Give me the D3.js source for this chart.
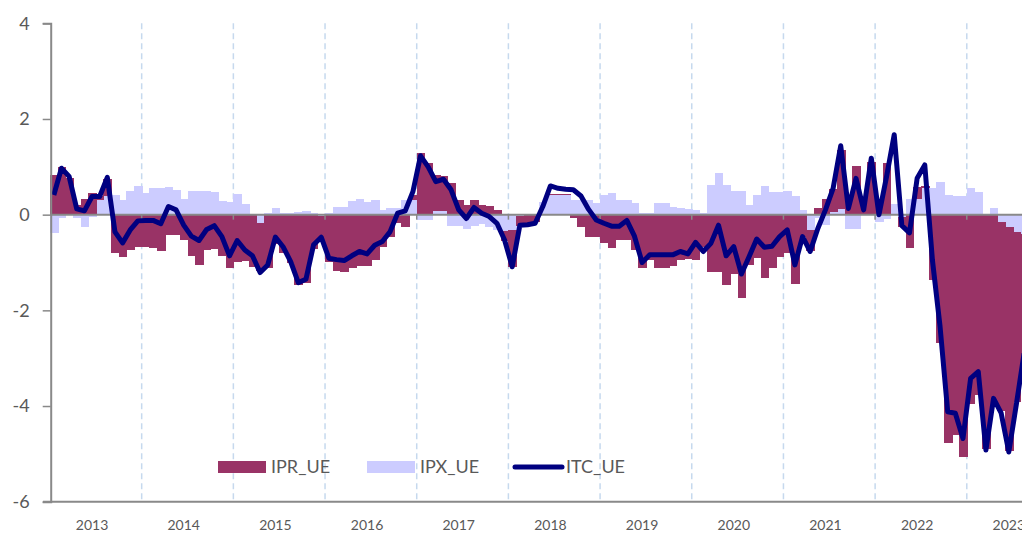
<!DOCTYPE html>
<html>
<head>
<meta charset="utf-8">
<script src="https://cdn.jsdelivr.net/npm/d3@7"></script>
<style>
  html, body { margin: 0; padding: 0; background: #fff; }
  svg { display: block; font-family: Lato, "Open Sans", sans-serif; }
</style>
</head>
<body>
<svg id="chart"></svg>
<script>
// categories
const years = [2013, 2014, 2015, 2016, 2017, 2018, 2019, 2020, 2021, 2022, 2023];
const seriesNames = ['IPR_UE', 'IPX_UE', 'ITC_UE'];
const yTicks = [-6, -4, -2, 0, 2, 4];

// monthly values, starting Jan 2013 (one row per year)
const ipr = [
  0.83, 0.99, 0.76, 0.20, 0.33, 0.46, 0.10, 0.35, -0.81, -0.88, -0.74, -0.68,
  -0.68, -0.69, -0.75, -0.42, -0.42, -0.54, -0.86, -1.05, -0.74, -0.72, -0.86, -1.12,
  -0.98, -0.96, -1.09, -1.00, -1.12, -0.61, -0.80, -1.00, -1.47, -1.42, -0.72, -0.50,
  -0.98, -1.17, -1.19, -1.12, -1.07, -1.08, -0.95, -0.67, -0.46, -0.18, -0.25, 0.10,
  1.28, 1.07, 0.75, 0.73, 0.66, 0.31, 0.20, 0.31, 0.20, 0.19, 0.10, -0.20,
  -0.78, -0.20, -0.18, -0.15, 0.00, 0.02, 0.02, 0.02, -0.06, -0.25, -0.46, -0.46,
  -0.59, -0.70, -0.54, -0.54, -0.74, -1.12, -0.95, -1.12, -1.12, -1.08, -0.95, -0.93,
  -0.95, -0.67, -1.19, -1.19, -1.47, -1.23, -1.75, -1.05, -0.91, -1.33, -1.12, -0.88,
  -0.81, -1.44, -0.46, -0.45, 0.13, 0.32, 0.48, 1.24, 0.35, 1.02, 0.30, 1.10,
  0.25, 1.09, 0.00, -0.21, -0.69, 0.25, 0.05, -1.37, -2.69, -4.78, -4.60, -5.06,
  -3.95, -3.76, -4.90, -3.90, -3.95, -4.70, -3.55, -2.60
];
const ipx = [
  -0.38, -0.07, 0.00, -0.07, -0.25, -0.05, 0.30, 0.40, 0.41, 0.31, 0.50, 0.60,
  0.45, 0.55, 0.55, 0.57, 0.51, 0.33, 0.50, 0.50, 0.50, 0.48, 0.29, 0.27,
  0.43, 0.22, 0.02, -0.17, 0.04, 0.13, 0.04, 0.04, 0.06, 0.08, 0.04, -0.02,
  0.03, 0.17, 0.17, 0.29, 0.32, 0.27, 0.31, 0.10, 0.13, 0.13, 0.31, 0.31,
  -0.11, -0.12, 0.08, 0.07, -0.24, -0.24, -0.29, -0.24, -0.20, -0.25, -0.32, -0.35,
  -0.32, -0.03, 0.00, 0.02, 0.27, 0.41, 0.41, 0.41, 0.31, 0.31, 0.31, 0.24,
  0.41, 0.46, 0.30, 0.30, 0.24, 0.04, 0.04, 0.24, 0.24, 0.17, 0.14, 0.12,
  0.10, 0.04, 0.62, 0.88, 0.62, 0.50, 0.50, 0.20, 0.41, 0.59, 0.48, 0.48,
  0.50, 0.38, 0.10, -0.32, -0.07, -0.21, 0.05, 0.11, -0.29, -0.29, 0.00, 0.00,
  -0.15, -0.10, 0.22, -0.05, 0.32, 0.32, 0.55, 0.55, 0.69, 0.41, 0.38, 0.38,
  0.55, 0.48, 0.00, 0.13, -0.15, -0.25, -0.36, -0.40
];
const itc = [
  0.41, 0.97, 0.80, 0.12, 0.08, 0.38, 0.38, 0.78, -0.36, -0.59, -0.32, -0.13,
  -0.12, -0.12, -0.19, 0.17, 0.10, -0.22, -0.45, -0.54, -0.31, -0.23, -0.46, -0.86,
  -0.54, -0.74, -0.86, -1.21, -1.05, -0.47, -0.67, -0.98, -1.42, -1.35, -0.63, -0.47,
  -0.91, -0.94, -0.96, -0.86, -0.77, -0.82, -0.64, -0.56, -0.36, 0.03, 0.08, 0.48,
  1.23, 1.00, 0.69, 0.74, 0.52, 0.10, -0.08, 0.15, 0.03, -0.04, -0.18, -0.53,
  -1.09, -0.22, -0.21, -0.18, 0.17, 0.60, 0.55, 0.53, 0.52, 0.39, 0.11, -0.11,
  -0.18, -0.24, -0.24, -0.12, -0.45, -1.00, -0.84, -0.84, -0.84, -0.84, -0.77, -0.82,
  -0.58, -0.77, -0.60, -0.22, -0.86, -0.67, -1.24, -0.88, -0.51, -0.68, -0.66, -0.46,
  -0.32, -1.05, -0.46, -0.77, -0.29, 0.10, 0.55, 1.44, 0.13, 0.76, 0.10, 1.18,
  0.00, 0.80, 1.67, -0.23, -0.38, 0.76, 1.04, -0.95, -2.34, -4.12, -4.15, -4.68,
  -3.42, -3.28, -4.92, -3.84, -4.15, -4.96, -3.95, -2.90
];

const width = 1022;
const height = 533;
const monthW = 7.64;
const colors = { ipr: '#993366', ipx: '#ccccff', itc: '#000080' };
const axisGrey = '#898989';
const textGrey = '#595959';

const svg = d3.select('#chart')
    .attr('width', width)
    .attr('height', height);

const months = d3.timeMonths(new Date(2013, 0, 1), new Date(2013, ipr.length, 1));
const rows = months.map((m, i) => ({ i, date: m, ipr: ipr[i], ipx: ipx[i], itc: itc[i] }));

const x = d3.scaleBand()
    .domain(d3.range(rows.length))
    .range([50, 50 + rows.length * monthW])
    .padding(0);

const y = d3.scaleLinear()
    .domain([-6, 4])
    .range([501.7, 23.3]);

// dashed year gridlines
const boundaries = years.slice(1).map((yr, j) => (j + 1) * 12);
svg.append('g')
    .selectAll('line')
    .data(boundaries)
    .join('line')
    .attr('x1', d => x(d))
    .attr('x2', d => x(d))
    .attr('y1', y(4))
    .attr('y2', y(-6))
    .attr('stroke', '#c6d9ee')
    .attr('stroke-width', 1.5)
    .attr('stroke-dasharray', '6,4');

// stacked columns (IPX first, then IPR)
const stack = d3.stack()
    .keys(['ipx', 'ipr'])
    .offset(d3.stackOffsetDiverging);
const layers = stack(rows);

svg.append('g')
    .attr('shape-rendering', 'crispEdges')
    .selectAll('g')
    .data(layers)
    .join('g')
    .attr('fill', d => colors[d.key])
    .selectAll('rect')
    .data(d => d)
    .join('rect')
    .attr('x', d => x(d.data.i))
    .attr('width', x.bandwidth() + 1)
    .attr('y', d => y(Math.max(d[0], d[1])))
    .attr('height', d => Math.abs(y(d[0]) - y(d[1])));

// zero axis with year tick marks
svg.append('line')
    .attr('x1', 50).attr('x2', width)
    .attr('y1', y(0)).attr('y2', y(0))
    .attr('stroke', axisGrey)
    .attr('stroke-width', 2);
svg.append('g')
    .selectAll('line')
    .data(boundaries)
    .join('line')
    .attr('x1', d => x(d)).attr('x2', d => x(d))
    .attr('y1', y(0)).attr('y2', y(0) + 5)
    .attr('stroke', axisGrey)
    .attr('stroke-width', 1.5);

// ITC line
const line = d3.line()
    .x(d => x(d.i) + x.bandwidth() / 2)
    .y(d => y(d.itc));

svg.append('path')
    .datum(rows)
    .attr('fill', 'none')
    .attr('stroke', colors.itc)
    .attr('stroke-width', 5)
    .attr('stroke-linejoin', 'round')
    .attr('d', line);

// bottom line
svg.append('line')
    .attr('x1', 43).attr('x2', width)
    .attr('y1', y(-6)).attr('y2', y(-6))
    .attr('stroke', axisGrey)
    .attr('stroke-width', 2);

// y axis
const yAxis = svg.append('g')
    .attr('transform', 'translate(50.7,0)')
    .call(d3.axisLeft(y).tickValues(yTicks).tickSize(8).tickPadding(13).tickFormat(d => String(d)));
yAxis.select('.domain').attr('stroke', axisGrey).attr('stroke-width', 2);
yAxis.selectAll('.tick line').attr('stroke', axisGrey).attr('stroke-width', 1.5);
yAxis.selectAll('.tick text')
    .attr('fill', textGrey)
    .style('font-size', '18px')
    .style('font-family', 'Lato, "Open Sans", sans-serif');

// year labels (centred on June)
svg.append('g')
    .selectAll('text')
    .data(years)
    .join('text')
    .attr('x', (yr, j) => x(j * 12 + 5) + x.bandwidth() / 2)
    .attr('y', 525)
    .attr('dy', '0.35em')
    .attr('text-anchor', 'middle')
    .attr('fill', textGrey)
    .style('font-size', '14px')
    .text(d => d);

// legend
const legendItems = [
  { name: seriesNames[0], key: 'ipr', x: 218, type: 'rect' },
  { name: seriesNames[1], key: 'ipx', x: 367, type: 'rect' },
  { name: seriesNames[2], key: 'itc', x: 513, type: 'line' }
];
const legend = svg.append('g').attr('transform', 'translate(0,467)');
legendItems.forEach(item => {
    if (item.type === 'rect') {
        legend.append('rect')
            .attr('x', item.x).attr('y', -6)
            .attr('width', 48).attr('height', 12)
            .attr('fill', colors[item.key]);
    } else {
        legend.append('line')
            .attr('x1', item.x + 2).attr('x2', item.x + 49)
            .attr('y1', 0).attr('y2', 0)
            .attr('stroke', colors[item.key])
            .attr('stroke-width', 5)
            .attr('stroke-linecap', 'round');
    }
    legend.append('text')
        .attr('x', item.x + 53)
        .attr('y', 0)
        .attr('dy', '0.35em')
        .attr('fill', textGrey)
        .style('font-size', '18px')
        .text(item.name);
});
</script>
</body>
</html>
